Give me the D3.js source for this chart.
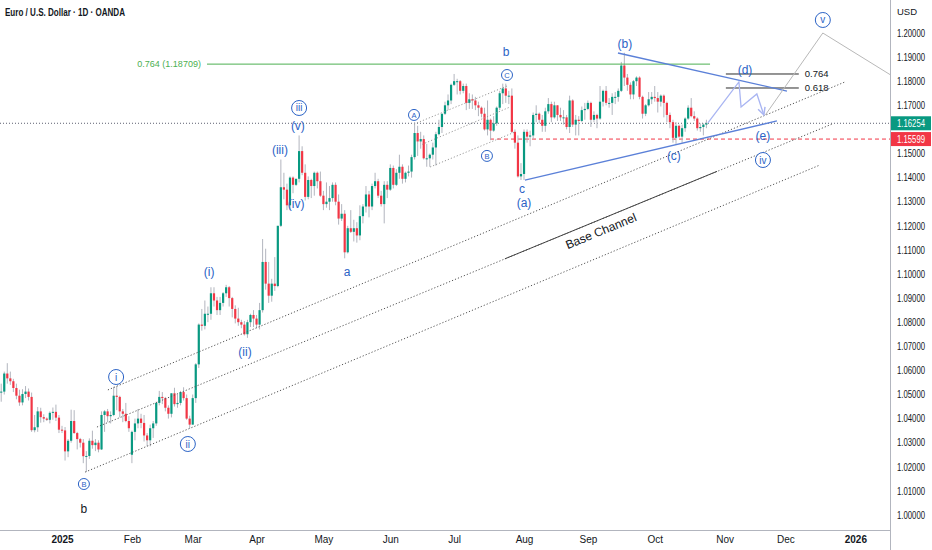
<!DOCTYPE html>
<html><head><meta charset="utf-8">
<script src="https://cdn.jsdelivr.net/npm/d3@7"></script>
<style>body{margin:0;background:#fff;overflow:hidden}svg{display:block;font-family:"Liberation Sans","DejaVu Sans",sans-serif}</style>
</head><body><svg id="c" width="932" height="550"></svg>
<script>
// ---------- DATA ----------
const calendarStart = new Date(2024, 11, 2);   // first daily bar (Mon 2 Dec 2024)
const calendarEnd   = new Date(2026, 0, 3);
const monthLabels = ["2025","Feb","Mar","Apr","May","Jun","Jul","Aug","Sep","Oct","Nov","Dec","2026"];
const monthStarts = ["2025-01-01","2025-02-01","2025-03-01","2025-04-01","2025-05-01","2025-06-01","2025-07-01","2025-08-01","2025-09-01","2025-10-01","2025-11-01","2025-12-01","2026-01-01"];
const priceTicks = [1.00,1.01,1.02,1.03,1.04,1.05,1.06,1.07,1.08,1.09,1.10,1.11,1.12,1.13,1.14,1.15,1.17,1.18,1.19,1.20];
const lastPrice = 1.16254;
const redLevel = 1.15599;
const fibLevel = 1.18709;
// daily candles [open, high, low, close]
const candles = [
// Dec 2024
[1.0575,1.0580,1.0460,1.0497],[1.0497,1.0540,1.0482,1.0510],[1.0510,1.0545,1.0470,1.0512],[1.0512,1.0595,1.0500,1.0587],[1.0587,1.0630,1.0545,1.0567],
[1.0567,1.0595,1.0540,1.0555],[1.0555,1.0565,1.0510,1.0527],[1.0527,1.0545,1.0480,1.0495],[1.0495,1.0520,1.0453,1.0467],[1.0467,1.0522,1.0455,1.0502],
[1.0502,1.0535,1.0485,1.0512],[1.0512,1.0525,1.0475,1.0490],[1.0490,1.0508,1.0345,1.0352],[1.0352,1.0415,1.0343,1.0364],[1.0364,1.0448,1.0345,1.0430],
[1.0430,1.0445,1.0383,1.0406],[1.0406,1.0418,1.0385,1.0400],[1.0400,1.0405,1.0390,1.0395],[1.0395,1.0430,1.0380,1.0424],[1.0424,1.0446,1.0395,1.0428],
[1.0428,1.0458,1.0390,1.0404],[1.0404,1.0415,1.0340,1.0354],
// Jan 2025
[1.0354,1.0370,1.0340,1.0351],[1.0351,1.0365,1.0226,1.0264],[1.0264,1.0315,1.0240,1.0308],[1.0308,1.0437,1.0300,1.0390],[1.0390,1.0435,1.0337,1.0340],
[1.0340,1.0345,1.0272,1.0315],[1.0315,1.0320,1.0280,1.0300],[1.0300,1.0315,1.0215,1.0244],[1.0244,1.0265,1.0178,1.0245],[1.0245,1.0318,1.0233,1.0308],
[1.0308,1.0350,1.0275,1.0290],[1.0290,1.0315,1.0265,1.0300],[1.0300,1.0310,1.0260,1.0272],[1.0272,1.0430,1.0270,1.0415],[1.0415,1.0435,1.0345,1.0430],
[1.0430,1.0440,1.0385,1.0410],[1.0410,1.0430,1.0380,1.0415],[1.0415,1.0532,1.0410,1.0495],[1.0495,1.0535,1.0435,1.0490],[1.0490,1.0495,1.0405,1.0430],
[1.0430,1.0440,1.0385,1.0420],[1.0420,1.0465,1.0385,1.0390],[1.0390,1.0410,1.0345,1.0360],
// Feb
[1.0250,1.0350,1.0215,1.0345],[1.0345,1.0400,1.0310,1.0380],[1.0380,1.0440,1.0360,1.0400],[1.0400,1.0420,1.0360,1.0382],[1.0382,1.0415,1.0305,1.0330],
[1.0330,1.0340,1.0285,1.0310],[1.0310,1.0375,1.0285,1.0360],[1.0360,1.0390,1.0320,1.0380],[1.0380,1.0470,1.0370,1.0465],[1.0465,1.0515,1.0455,1.0490],
[1.0490,1.0510,1.0460,1.0485],[1.0485,1.0490,1.0430,1.0445],[1.0445,1.0455,1.0400,1.0420],[1.0420,1.0505,1.0405,1.0505],[1.0505,1.0528,1.0450,1.0460],
[1.0460,1.0500,1.0445,1.0465],[1.0465,1.0515,1.0455,1.0510],[1.0510,1.0530,1.0475,1.0485],[1.0485,1.0500,1.0395,1.0400],[1.0400,1.0412,1.0360,1.0375],
// Mar
[1.0375,1.0500,1.0375,1.0485],[1.0485,1.0630,1.0465,1.0625],[1.0625,1.0795,1.0610,1.0790],[1.0790,1.0855,1.0765,1.0785],[1.0785,1.0890,1.0770,1.0835],
[1.0835,1.0865,1.0800,1.0835],[1.0835,1.0945,1.0810,1.0920],[1.0920,1.0945,1.0865,1.0890],[1.0890,1.0905,1.0830,1.0850],[1.0850,1.0905,1.0830,1.0880],
[1.0880,1.0925,1.0865,1.0920],[1.0920,1.0955,1.0905,1.0945],[1.0945,1.0950,1.0865,1.0900],[1.0900,1.0905,1.0820,1.0855],[1.0855,1.0870,1.0795,1.0815],
[1.0815,1.0860,1.0785,1.0800],[1.0800,1.0810,1.0775,1.0790],[1.0790,1.0805,1.0745,1.0750],[1.0750,1.0810,1.0735,1.0800],[1.0800,1.0835,1.0780,1.0830],
[1.0830,1.0850,1.0780,1.0815],
// Apr
[1.0815,1.0830,1.0775,1.0790],[1.0790,1.0880,1.0770,1.0850],[1.0850,1.1145,1.0840,1.1050],[1.1050,1.1105,1.0935,1.0960],[1.0960,1.1050,1.0880,1.0910],
[1.0910,1.0980,1.0885,1.0960],[1.0960,1.1070,1.0930,1.0950],[1.0950,1.1200,1.0945,1.1200],[1.1200,1.1475,1.1195,1.1360],[1.1360,1.1420,1.1310,1.1350],
[1.1350,1.1375,1.1265,1.1285],[1.1285,1.1405,1.1265,1.1400],[1.1400,1.1405,1.1335,1.1370],[1.1370,1.1395,1.1365,1.1395],[1.1395,1.1575,1.1380,1.1510],
[1.1510,1.1530,1.1410,1.1420],[1.1420,1.1455,1.1305,1.1320],[1.1320,1.1405,1.1310,1.1390],[1.1390,1.1395,1.1315,1.1365],[1.1365,1.1425,1.1325,1.1420],
[1.1420,1.1425,1.1355,1.1385],[1.1385,1.1425,1.1320,1.1325],
// May
[1.1325,1.1345,1.1265,1.1290],[1.1290,1.1380,1.1275,1.1300],[1.1300,1.1365,1.1265,1.1315],[1.1315,1.1380,1.1300,1.1370],[1.1370,1.1380,1.1285,1.1300],
[1.1300,1.1330,1.1205,1.1230],[1.1230,1.1290,1.1220,1.1250],[1.1250,1.1265,1.1065,1.1090],[1.1090,1.1200,1.1085,1.1190],[1.1190,1.1265,1.1170,1.1175],
[1.1175,1.1225,1.1135,1.1190],[1.1190,1.1215,1.1130,1.1160],[1.1160,1.1285,1.1140,1.1240],[1.1240,1.1290,1.1210,1.1280],[1.1280,1.1365,1.1255,1.1330],
[1.1330,1.1345,1.1235,1.1280],[1.1280,1.1375,1.1265,1.1365],[1.1365,1.1420,1.1355,1.1385],[1.1385,1.1395,1.1315,1.1325],[1.1325,1.1345,1.1280,1.1290],
[1.1290,1.1385,1.1210,1.1370],[1.1370,1.1385,1.1315,1.1350],
// Jun
[1.1350,1.1455,1.1345,1.1440],[1.1440,1.1450,1.1355,1.1370],[1.1370,1.1435,1.1365,1.1420],[1.1420,1.1495,1.1395,1.1445],[1.1445,1.1455,1.1375,1.1395],
[1.1395,1.1425,1.1380,1.1420],[1.1420,1.1450,1.1405,1.1425],[1.1425,1.1495,1.1400,1.1485],[1.1485,1.1630,1.1475,1.1585],[1.1585,1.1615,1.1490,1.1550],
[1.1550,1.1590,1.1520,1.1560],[1.1560,1.1575,1.1475,1.1480],[1.1480,1.1540,1.1445,1.1480],[1.1480,1.1500,1.1445,1.1495],[1.1495,1.1545,1.1475,1.1525],
[1.1525,1.1590,1.1450,1.1580],[1.1580,1.1640,1.1575,1.1610],[1.1610,1.1665,1.1585,1.1665],[1.1665,1.1715,1.1660,1.1700],[1.1700,1.1745,1.1680,1.1720],
[1.1720,1.1790,1.1705,1.1785],
// Jul
[1.1785,1.1830,1.1780,1.1800],[1.1800,1.1810,1.1745,1.1800],[1.1800,1.1805,1.1745,1.1760],[1.1760,1.1790,1.1750,1.1780],[1.1780,1.1790,1.1680,1.1710],
[1.1710,1.1750,1.1685,1.1725],[1.1725,1.1745,1.1685,1.1720],[1.1720,1.1735,1.1680,1.1700],[1.1700,1.1715,1.1655,1.1690],[1.1690,1.1695,1.1650,1.1665],
[1.1665,1.1690,1.1595,1.1600],[1.1600,1.1720,1.1575,1.1640],[1.1640,1.1645,1.1555,1.1595],[1.1595,1.1655,1.1590,1.1625],[1.1625,1.1695,1.1615,1.1690],
[1.1690,1.1760,1.1680,1.1750],[1.1750,1.1790,1.1705,1.1770],[1.1770,1.1790,1.1710,1.1740],[1.1740,1.1760,1.1705,1.1740],[1.1740,1.1770,1.1585,1.1590],
[1.1590,1.1600,1.1520,1.1545],[1.1545,1.1575,1.1400,1.1405],[1.1405,1.1460,1.1390,1.1415],
// Aug
[1.1415,1.1600,1.1390,1.1590],[1.1590,1.1600,1.1545,1.1570],[1.1570,1.1595,1.1530,1.1575],[1.1575,1.1670,1.1560,1.1660],[1.1660,1.1700,1.1630,1.1665],
[1.1665,1.1670,1.1625,1.1640],[1.1640,1.1660,1.1590,1.1615],[1.1615,1.1690,1.1590,1.1675],[1.1675,1.1730,1.1665,1.1705],[1.1705,1.1715,1.1630,1.1650],
[1.1650,1.1715,1.1645,1.1700],[1.1700,1.1700,1.1635,1.1660],[1.1660,1.1690,1.1635,1.1650],[1.1650,1.1680,1.1620,1.1650],[1.1650,1.1660,1.1600,1.1610],
[1.1610,1.1740,1.1585,1.1720],[1.1720,1.1725,1.1610,1.1620],[1.1620,1.1660,1.1575,1.1640],[1.1640,1.1655,1.1575,1.1635],[1.1635,1.1695,1.1630,1.1680],
[1.1680,1.1710,1.1640,1.1685],
// Sep
[1.1685,1.1720,1.1680,1.1710],[1.1710,1.1715,1.1610,1.1640],[1.1640,1.1675,1.1630,1.1660],[1.1660,1.1665,1.1605,1.1645],[1.1645,1.1780,1.1640,1.1715],
[1.1715,1.1765,1.1695,1.1760],[1.1760,1.1780,1.1700,1.1710],[1.1710,1.1730,1.1690,1.1710],[1.1710,1.1750,1.1660,1.1735],[1.1735,1.1755,1.1705,1.1735],
[1.1735,1.1770,1.1715,1.1760],[1.1760,1.1880,1.1755,1.1865],[1.1865,1.1918,1.1780,1.1815],[1.1815,1.1830,1.1760,1.1785],[1.1785,1.1795,1.1725,1.1745],
[1.1745,1.1805,1.1725,1.1800],[1.1800,1.1820,1.1780,1.1815],[1.1815,1.1820,1.1725,1.1735],[1.1735,1.1740,1.1645,1.1665],[1.1665,1.1705,1.1655,1.1700],
[1.1700,1.1755,1.1695,1.1725],[1.1725,1.1755,1.1705,1.1735],
// Oct
[1.1735,1.1780,1.1715,1.1730],[1.1730,1.1755,1.1670,1.1715],[1.1715,1.1745,1.1695,1.1740],[1.1740,1.1745,1.1650,1.1710],[1.1710,1.1715,1.1630,1.1660],
[1.1660,1.1670,1.1605,1.1630],[1.1630,1.1640,1.1545,1.1565],[1.1565,1.1630,1.1540,1.1615],[1.1615,1.1620,1.1565,1.1570],[1.1570,1.1620,1.1545,1.1605],
[1.1605,1.1650,1.1590,1.1645],[1.1645,1.1700,1.1640,1.1690],[1.1690,1.1730,1.1650,1.1655],[1.1655,1.1675,1.1635,1.1645],[1.1645,1.1650,1.1595,1.1605],
[1.1605,1.1625,1.1590,1.1610],[1.1610,1.1625,1.1575,1.1620],[1.1620,1.1640,1.1605,1.16254]
];
// drawings in (bar index, price)
const channelLines = [
  [[37.1,1.0519],[279.6,1.1797]],
  [[33.5,1.0365],[275.3,1.1622]],
  [[29.6,1.0178],[271.3,1.1452]]
];
const baseSegment = [[167.7,1.1063],[237.5,1.1426]];
const abcLines = [
  [[137.8,1.1622],[168.4,1.1780]],
  [[140.5,1.1538],[169.4,1.1693]],
  [[143.1,1.1444],[171.0,1.1589]]
];
const triangleLines = [
  [[204.9,1.1917],[260.5,1.1759]],
  [[174.3,1.1390],[257.2,1.1635]]
];
const projectionPath = [[234.5,1.1627],[244.7,1.1797],[245.4,1.1693],[250.6,1.1747],[252.9,1.1660]];
const targetPath = [[253.4,1.1660],[272.3,1.2000],[296.0,1.1815]];
const fibLines = [["0.764",1.18299,[240.4,264.4]],["0.618",1.17718,[240.4,264.4]]];
const textLabels = [
  ["b",29.2,1.00249,"#131722"],["(i)",70.4,1.10083,"#2b63c6"],["(ii)",82.2,1.06763,"#2b63c6"],
  ["(v)",99.6,1.16141,"#2b63c6"],["(iii)",93.7,1.15145,"#2b63c6"],["(iv)",99.0,1.12905,"#2b63c6"],
  ["a",115.8,1.10083,"#2b63c6"],["b",168.1,1.19212,"#2b63c6"],["c",173.3,1.13527,"#2b63c6"],
  ["(a)",174.0,1.12946,"#2b63c6"],["(b)",207.2,1.19544,"#2b63c6"],["(c)",223.3,1.14896,"#2b63c6"],
  ["(d)",246.7,1.18465,"#2b63c6"],["(e)",252.6,1.15726,"#2b63c6"]
];
const circleLabels = [
  ["B",29.2,1.01286,5.5],["i",39.8,1.05726,7.5],["ii",63.4,1.02946,7.5],["iii",100.0,1.16888,7.5],
  ["A",137.8,1.1660,5.5],["B",161.8,1.1490,5.5],["C",168.4,1.18257,5.5],["iv",252.6,1.1473,7.5],["v",272.3,1.2054,7.5]
];
const channelText = ["Base Channel",199.3,1.11784];

// ---------- CHART ----------
const svg = d3.select("#c");
const plotR = 890, plotB = 530;
const x = d3.scaleLinear().domain([1.6, 294.4]).range([0, plotR]);
const y = d3.scaleLinear().domain([1.0, 1.2]).range([515, 33]);
const calendar = d3.timeDay.range(calendarStart, calendarEnd).filter(d => d.getDay() !== 0 && d.getDay() !== 6);
const calNums = calendar.map(d => +d);
const monthIdx = monthStarts.map(s => { const p = s.split("-").map(Number); return d3.bisectLeft(calNums, +new Date(p[0], p[1]-1, p[2])); });

const defs = svg.append("defs");
defs.append("clipPath").attr("id","plot").append("rect").attr("width", plotR).attr("height", plotB);
defs.append("marker").attr("id","arr").attr("viewBox","0 0 10 10").attr("refX",9).attr("refY",5)
  .attr("markerWidth",7).attr("markerHeight",7).attr("orient","auto")
  .append("path").attr("d","M1,1L9,5L1,9").attr("fill","none").attr("stroke","#a9b5f2").attr("stroke-width",1.6);

const line = d3.line().x(d => x(d[0])).y(d => y(d[1]));
const g = svg.append("g").attr("clip-path","url(#plot)");

// last price dotted line & red dashed
g.append("line").attr("x1",0).attr("x2",plotR).attr("y1",y(lastPrice)).attr("y2",y(lastPrice))
  .attr("stroke","#5d6070").attr("stroke-dasharray","1,2").attr("stroke-width",1);
g.append("line").attr("x1",x(162.8)).attr("x2",plotR).attr("y1",y(redLevel)).attr("y2",y(redLevel))
  .attr("stroke","#f23645").attr("stroke-dasharray","4,3").attr("stroke-width",1);

// candles
const cg = g.append("g");
candles.forEach((c, i) => {
  const up = c[3] >= c[0];
  const col = up ? "#089981" : "#f23645";
  const cx = x(i);
  cg.append("line").attr("x1",cx).attr("x2",cx).attr("y1",y(c[1])).attr("y2",y(c[2])).attr("stroke","#b2b5be").attr("stroke-width",1);
  const top = y(Math.max(c[0],c[3])), bot = y(Math.min(c[0],c[3]));
  cg.append("rect").attr("x",cx-1.1).attr("width",2.2).attr("y",top).attr("height",Math.max(1,bot-top)).attr("fill",col);
});

// channel lines
channelLines.forEach(l => g.append("path").attr("d", line(l)).attr("fill","none").attr("stroke","#555").attr("stroke-width",1).attr("stroke-dasharray","1.2,2"));
g.append("path").attr("d", line(baseSegment)).attr("fill","none").attr("stroke","#444").attr("stroke-width",1);
abcLines.forEach(l => g.append("path").attr("d", line(l)).attr("fill","none").attr("stroke","#9a9a9a").attr("stroke-width",1).attr("stroke-dasharray","1.2,2"));

// fib green
g.append("line").attr("x1",x(69.7)).attr("x2",x(235.2)).attr("y1",y(fibLevel)).attr("y2",y(fibLevel)).attr("stroke","#4caf50").attr("stroke-width",1);
g.append("text").attr("x",x(67.7)).attr("y",y(fibLevel)).attr("dy","0.35em").attr("text-anchor","end")
  .attr("font-size",9).attr("fill","#4caf50").text("0.764 (" + fibLevel.toFixed(5) + ")");
fibLines.forEach(f => {
  g.append("line").attr("x1",x(f[2][0])).attr("x2",x(f[2][1])).attr("y1",y(f[1])).attr("y2",y(f[1])).attr("stroke","#2b2b2b").attr("stroke-width",1);
  g.append("text").attr("x",x(f[2][1])+6).attr("y",y(f[1])).attr("dy","0.35em").attr("font-size",9.5).attr("fill","#131722").text(f[0]);
});

// triangle
triangleLines.forEach(l => g.append("path").attr("d", line(l)).attr("fill","none").attr("stroke","#5b80d8").attr("stroke-width",1.3));
// projections
g.append("path").attr("d", line(projectionPath)).attr("fill","none").attr("stroke","#a9b5f2").attr("stroke-width",1.3).attr("marker-end","url(#arr)");
g.append("path").attr("d", line(targetPath)).attr("fill","none").attr("stroke","#b8b8b8").attr("stroke-width",1);

// base channel text
g.append("text").attr("transform", `translate(${x(channelText[1])},${y(channelText[2])}) rotate(-22.4)`)
  .attr("text-anchor","middle").attr("dy","0.35em").attr("font-size",12).attr("fill","#131722").text(channelText[0]);

// labels
textLabels.forEach(t => g.append("text").attr("x",x(t[1])).attr("y",y(t[2])).attr("dy","0.35em").attr("text-anchor","middle")
  .attr("font-size",12).attr("fill",t[3]).text(t[0]));
circleLabels.forEach(c => {
  const cx = x(c[1]), cy = y(c[2]);
  g.append("circle").attr("cx",cx).attr("cy",cy).attr("r",c[3]).attr("fill","#fff").attr("stroke","#2b63c6").attr("stroke-width",1);
  g.append("text").attr("x",cx).attr("y",cy).attr("dy","0.35em").attr("text-anchor","middle")
    .attr("font-size", c[3] > 6 ? 10 : 7.5).attr("fill","#2b63c6").text(c[0]);
});

// axes
const ya = svg.append("g").attr("transform",`translate(${plotR},0)`)
  .call(d3.axisRight(y).tickValues(priceTicks).tickFormat(d3.format(".5f")).tickSize(0).tickPadding(7));
ya.select(".domain").remove();
ya.selectAll("text").attr("font-size",10).attr("fill","#131722").attr("textLength",28).attr("lengthAdjust","spacingAndGlyphs");
const xa = svg.append("g").attr("transform",`translate(0,${plotB})`)
  .call(d3.axisBottom(x).tickValues(monthIdx).tickFormat((d,i) => monthLabels[i]).tickSize(0).tickPadding(6));
xa.select(".domain").remove();
xa.selectAll("text").attr("font-size",10).attr("fill","#131722")
  .attr("font-weight",(d,i) => monthLabels[i].length === 4 ? 700 : 400);
svg.selectAll(".tick text").attr("font-family","Liberation Sans, DejaVu Sans, sans-serif");

svg.append("line").attr("x1",plotR+0.5).attr("x2",plotR+0.5).attr("y1",0).attr("y2",550).attr("stroke","#b2b5be");
svg.append("line").attr("x1",0).attr("x2",plotR).attr("y1",plotB+0.5).attr("y2",plotB+0.5).attr("stroke","#b2b5be");

// price tags
[[lastPrice,"#089981"],[redLevel,"#f23645"]].forEach(t => {
  svg.append("rect").attr("x",plotR+1).attr("y",y(t[0])-7).attr("width",40).attr("height",14).attr("fill",t[1]);
  svg.append("text").attr("x",plotR+7).attr("y",y(t[0])).attr("dy","0.35em").attr("font-size",10).attr("fill","#fff")
    .attr("textLength",28).attr("lengthAdjust","spacingAndGlyphs").text(t[0].toFixed(5));
});
svg.append("text").attr("x",plotR+7).attr("y",12).attr("dy","0.35em").attr("font-size",9.5).attr("fill","#131722").text("USD");
svg.append("text").attr("x",5).attr("y",12).attr("dy","0.35em").attr("font-size",10.5).attr("font-weight",700).attr("fill","#131722")
  .attr("textLength",120).attr("lengthAdjust","spacingAndGlyphs").text("Euro / U.S. Dollar · 1D · OANDA");
</script></body></html>
